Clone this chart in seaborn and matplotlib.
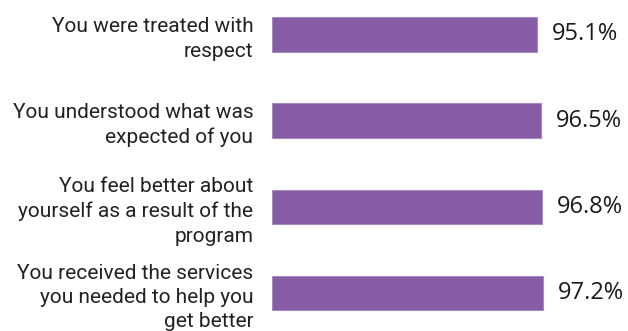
import matplotlib
matplotlib.use("Agg")
import matplotlib.pyplot as plt
import seaborn as sns
import pandas as pd

categories = [
    "You were treated with\nrespect",
    "You understood what was\nexpected of you",
    "You feel better about\nyourself as a result of the\nprogram",
    "You received the services\nyou needed to help you\nget better",
]
values = [95.1, 96.5, 96.8, 97.2]
value_labels = ["95.1%", "96.5%", "96.8%", "97.2%"]

sns.set_style("white")
plt.rcParams['font.family'] = ['Open Sans', 'DejaVu Sans']

df = pd.DataFrame({"cat": categories, "val": values})

W, H = 628, 331
fig = plt.figure(figsize=(W / 100, H / 100), dpi=100)
# axes in pixel coordinates
x0, x1 = 272, 272 + 278.7
spacing = 86.17
ytop = 34.5 - 0.5 * spacing
ybot = 293 + 0.5 * spacing
ax = fig.add_axes([x0 / W, (H - ybot) / H, (x1 - x0) / W, (ybot - ytop) / H])

sns.barplot(data=df, x="val", y="cat", orient="h", color="#865CA4",
            saturation=1, width=0.40, ax=ax, edgecolor="#A58BC0", linewidth=0.8)
ax.set_xlim(0, 100)
ax.set_ylim(3.5, -0.5)

for i, (v, lab) in enumerate(zip(values, value_labels)):
    ax.annotate(lab, xy=(v, i), xytext=(15, 0), textcoords="offset pixels",
                ha="left", va="center", fontsize=17, color="#1a1a1a")

ax.set_xlabel("")
ax.set_ylabel("")
ax.set_xticks([])
ax.tick_params(axis="y", length=0, pad=13.5)
for t in ax.get_yticklabels():
    t.set_family(['Roboto', 'DejaVu Sans'])
    t.set_fontsize(15)
    t.set_color("#222222")
    t.set_linespacing(1.35)
    t.set_ha("right")
for s in ax.spines.values():
    s.set_visible(False)

fig.savefig("out.png", dpi=100)
